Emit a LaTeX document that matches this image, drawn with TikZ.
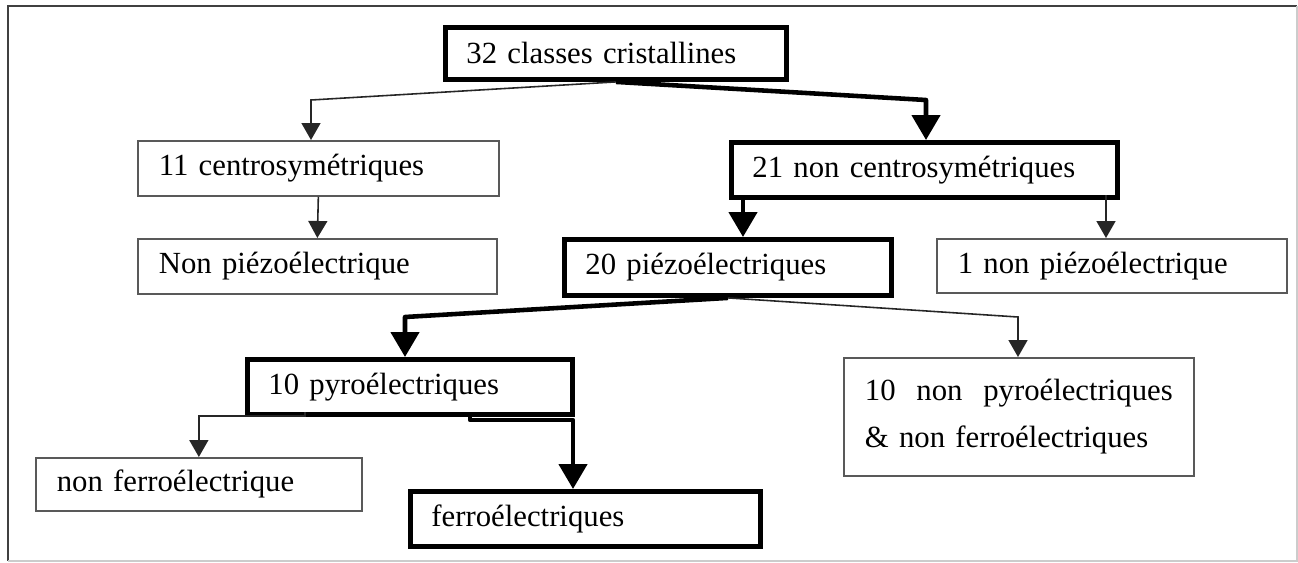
\documentclass[tikz,border=0pt]{standalone}
\usepackage{fontspec}
\setmainfont{Liberation Serif}
\usetikzlibrary{arrows.meta}

\tikzset{
    box/.style={anchor=north west, align=left, inner xsep=0.42cm, inner ysep=0pt, text=black, font=\fontsize{17.5}{21}\selectfont},
    thinbox/.style={box, draw=black!65, line width=1pt},
    thickbox/.style={box, draw=black, line width=2.8pt},
    thinarrow/.style={draw=black!85, line width=0.9pt, -{Triangle[length=0.34cm,width=0.38cm]}},
    thickarrow/.style={draw=black, line width=2.6pt, line join=round, -{Triangle[length=0.5cm,width=0.56cm]}}
}

\begin{document}
\begin{tikzpicture}[x=0.02cm, y=-0.02cm]
    \useasboundingbox (0,0) rectangle (1298,562);
    % frame
    \draw[black!75, line width=1pt] (1297,6) -- (8,6) -- (8,561);
    \draw[black!20, line width=1pt] (8,561) -- (1297,561) -- (1297,6);

    % classes
    \node[thickbox, minimum width=6.82cm, text width=5.98cm, minimum height=1.04cm] (A) at (443,25) {32 classes cristallines};
    \node[thinbox, minimum width=7.22cm, text width=6.38cm, minimum height=1.10cm] (B) at (137,140) {11 centrosymétriques};
    \node[thickbox, minimum width=7.72cm, text width=6.88cm, minimum height=1.10cm] (C) at (729,140) {21 non centrosymétriques};
    \node[thinbox, minimum width=7.18cm, text width=6.34cm, minimum height=1.10cm] (D) at (137,238) {Non piézoélectrique};
    \node[thickbox, minimum width=6.54cm, text width=5.70cm, minimum height=1.12cm] (E) at (562,237) {20 piézoélectriques};
    \node[thinbox, minimum width=7.00cm, text width=6.16cm, minimum height=1.08cm] (F) at (936,238) {1 non piézoélectrique};
    \node[thickbox, minimum width=6.50cm, text width=5.66cm, minimum height=1.10cm] (G) at (245,357) {10 pyroélectriques};
    \node[thinbox, minimum width=7.00cm, text width=6.16cm, minimum height=2.36cm, font=\fontsize{17.5}{26.7}\selectfont] (H) at (843,357) {10\hfill non\hfill pyroélectriques\\\& non ferroélectriques};
    \node[thinbox, minimum width=6.52cm, text width=5.68cm, minimum height=1.06cm] (I) at (35,457) {non ferroélectrique};
    \node[thickbox, minimum width=7.00cm, text width=6.16cm, minimum height=1.10cm] (J) at (408,489) {ferroélectriques};

    % bends of the connectors
    \coordinate (ab) at (311,100);
    \coordinate (ac) at (926,100);
    \coordinate (ce) at (743,195);
    \coordinate (cf) at (1106,195);
    \coordinate (eg) at (405,317);
    \coordinate (eh) at (1018,317);
    \coordinate (gi) at (305,412);
    \coordinate (gj) at (470,412);
    \coordinate (jin) at (573,489);

    \draw[thinarrow] (A.south) -- (ab) -- (B.north -| ab);
    \draw[thickarrow] (A.south) -- (ac) -- (C.north -| ac);
    \draw[thinarrow] (B.south) -- (D.north);
    \draw[thickarrow] (ce) -- (ce |- E.north);
    \draw[thinarrow] (cf) -- (cf |- F.north);
    \draw[thickarrow] (E.south) -- (eg) -- (G.north -| eg);
    \draw[thinarrow] (E.south) -- (eh) -- (H.north -| eh);
    \draw[thinarrow] (gi) -- ++(0,4) -| (I.north);
    \draw[thickarrow] (gj) -- ++(0,8) -| (jin);
\end{tikzpicture}
\end{document}
